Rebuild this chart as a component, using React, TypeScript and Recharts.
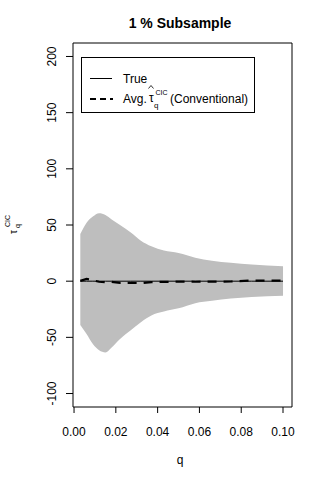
import React from "react";
import { ComposedChart, Area, Line, XAxis, YAxis, ReferenceArea } from "recharts";

const qValues = [0.003, 0.006, 0.009, 0.012, 0.015, 0.018, 0.022, 0.027, 0.032, 0.037, 0.043, 0.05, 0.058, 0.066, 0.075, 0.085, 0.1];
const upperBand = [42, 52, 57.5, 60.5, 59, 55, 50, 43.5, 36, 31, 27.2, 25, 20.8, 18.2, 16.3, 14.8, 13.2];
const lowerBand = [-39, -47, -56, -61.5, -63.4, -59, -51.5, -44, -36.5, -30.5, -27, -24.2, -19.6, -17.5, -15.5, -14, -13];
const trueValues = [0, 0, 0, 0, 0, 0, 0, 0, 0, 0, 0, 0, 0, 0, 0, 0, 0];
const avgValues = [0.3, 2.0, 0.8, -0.5, -0.8, -0.6, -1.5, -1.4, -1.8, -0.8, -0.6, -0.4, -0.5, -0.4, -0.3, 0.6, 0.4];

const xTicks = [0, 0.02, 0.04, 0.06, 0.08, 0.1];
const yTicks = [-100, -50, 0, 50, 100, 150, 200];
const X_DOMAIN: [number, number] = [-0.0005, 0.1043];
const Y_DOMAIN: [number, number] = [-112, 212];

const FONT = "'Liberation Sans', Arial, sans-serif";

const data = qValues.map((q, i) => ({
  q,
  band: [lowerBand[i], upperBand[i]],
  truth: trueValues[i],
  avg: avgValues[i],
}));

const XTick = (props: any) => {
  const { x, y, payload } = props;
  return (
    <text x={x} y={y + 21} textAnchor="middle" fontSize={12} fontFamily={FONT} fill="#000">
      {Number(payload.value).toFixed(2)}
    </text>
  );
};

const YTick = (props: any) => {
  const { y, payload } = props;
  return (
    <text x={56} y={y} transform={`rotate(-90, 56, ${y})`} textAnchor="middle" fontSize={12} fontFamily={FONT} fill="#000">
      {payload.value}
    </text>
  );
};

export default function App() {
  return (
    <div style={{ position: "absolute", left: 0, top: 0, width: 320, height: 480, background: "#fff" }}>
      <ComposedChart width={320} height={480} data={data} margin={{ top: 43, right: 28, bottom: 40, left: 0 }}>
        <XAxis
          dataKey="q"
          type="number"
          domain={X_DOMAIN}
          ticks={xTicks}
          allowDataOverflow
          height={33}
          tickSize={6}
          tick={<XTick />}
          stroke="#000"
          axisLine={false}
        />
        <YAxis
          type="number"
          domain={Y_DOMAIN}
          ticks={yTicks}
          allowDataOverflow
          width={73}
          tickSize={7}
          tick={<YTick />}
          stroke="#000"
          axisLine={false}
        />
        <Area dataKey="band" type="monotone" fill="#bebebe" fillOpacity={1} stroke="none" isAnimationActive={false} />
        <Line dataKey="truth" type="linear" stroke="#000" strokeWidth={1} dot={false} isAnimationActive={false} />
        <Line dataKey="avg" type="linear" stroke="#000" strokeWidth={2.2} strokeDasharray="9 7" dot={false} isAnimationActive={false} />
        <ReferenceArea x1={X_DOMAIN[0]} x2={X_DOMAIN[1]} y1={Y_DOMAIN[0]} y2={Y_DOMAIN[1]} fill="none" stroke="#000" strokeWidth={1} ifOverflow="visible" />
      </ComposedChart>
      <svg width={320} height={480} style={{ position: "absolute", left: 0, top: 0, pointerEvents: "none" }} fontFamily={FONT}>
        <text x={180} y={28} textAnchor="middle" fontSize={14} fontWeight="bold" fill="#000">1 % Subsample</text>
        <text x={180} y={464} textAnchor="middle" fontSize={12} fill="#000">q</text>
        {/* y-axis label */}
        <g transform="rotate(-90, 17, 234)">
          <text x={17} y={234} fontSize={10} fill="#000">τ</text>
          <text x={23} y={237} fontSize={7} fill="#000">q</text>
          <text x={24} y={227} fontSize={7} fill="#000">CIC</text>
        </g>
        {/* legend */}
        <rect x={81.5} y={57.5} width={173} height={55} fill="none" stroke="#000" strokeWidth={1} />
        <line x1={90} y1={78.5} x2={112} y2={78.5} stroke="#000" strokeWidth={1} />
        <text x={123} y={83} fontSize={12} fill="#000">True</text>
        <line x1={90} y1={99} x2={113} y2={99} stroke="#000" strokeWidth={2.2} strokeDasharray="6 4" />
        <text x={123} y={103} fontSize={12} fill="#000">Avg.</text>
        <text x={149} y={102} fontSize={12} fill="#000">τ</text>
        <polyline points="148.5,88.5 151,85.5 153.5,88.5" fill="none" stroke="#000" strokeWidth={0.8} />
        <text x={155.5} y={95} fontSize={7} fill="#000">CIC</text>
        <text x={154} y={108} fontSize={8} fill="#000">q</text>
        <text x={170} y={103} fontSize={12} fill="#000">(Conventional)</text>
      </svg>
    </div>
  );
}
